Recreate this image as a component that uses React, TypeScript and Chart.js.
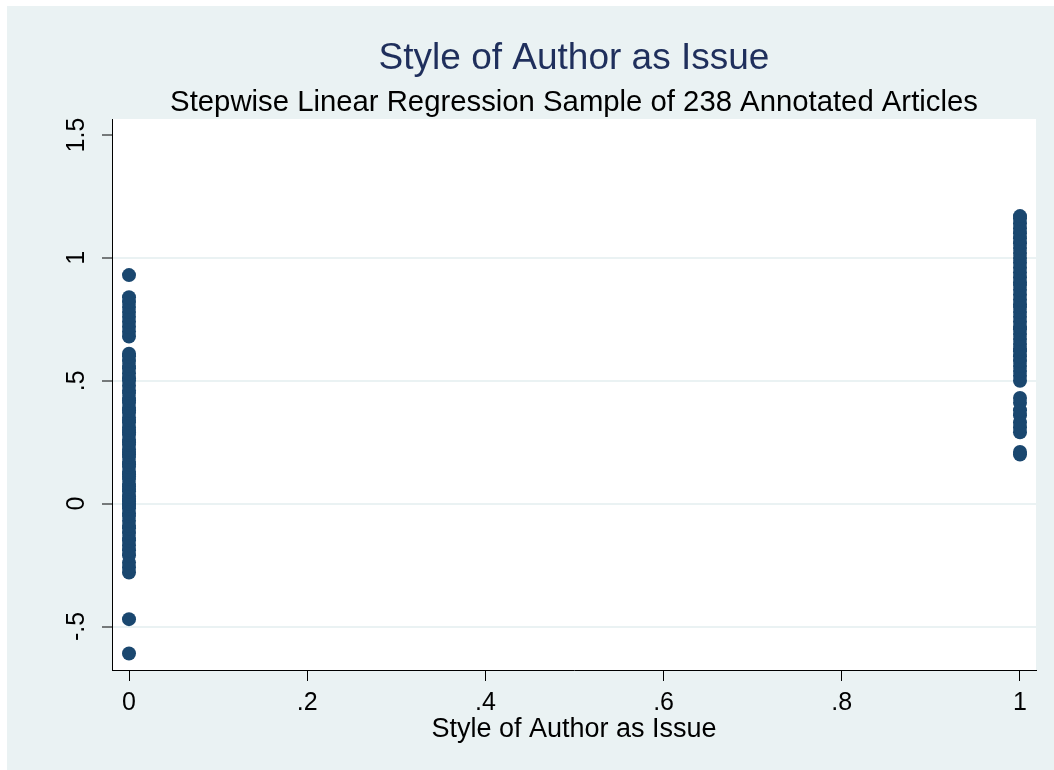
import React, { useEffect, useRef } from "react";
import { Chart, registerables } from "chart.js";

Chart.register(...registerables);

const TITLE = "Style of Author as Issue";
const SUBTITLE = "Stepwise Linear Regression Sample of 238 Annotated Articles";
const X_AXIS_TITLE = "Style of Author as Issue";

const xTickValues = [0, 0.2, 0.4, 0.6, 0.8, 1];
const xTickLabels = ["0", ".2", ".4", ".6", ".8", "1"];
const yTickValues = [-0.5, 0, 0.5, 1, 1.5];
const yTickLabels = ["-.5", "0", ".5", "1", "1.5"];

// predicted values for articles where "Style of Author as Issue" = 0
const groupZeroY = [
  -0.61, -0.47, -0.28, -0.26, -0.24, -0.21, -0.19, -0.17, -0.15, -0.14,
  -0.12, -0.1, -0.09, -0.07, -0.05, -0.04, -0.02, -0.01, 0.0, 0.01,
  0.02, 0.03, 0.05, 0.06, 0.07, 0.08, 0.1, 0.11, 0.12, 0.13,
  0.15, 0.16, 0.17, 0.19, 0.2, 0.21, 0.22, 0.24, 0.25, 0.26,
  0.28, 0.29, 0.3, 0.31, 0.33, 0.34, 0.35, 0.37, 0.38, 0.39,
  0.41, 0.42, 0.43, 0.45, 0.46, 0.48, 0.5, 0.51, 0.53, 0.55,
  0.56, 0.58, 0.6, 0.61, 0.68, 0.7, 0.72, 0.74, 0.76, 0.78,
  0.8, 0.82, 0.84, 0.93,
];

// predicted values for articles where "Style of Author as Issue" = 1
const groupOneY = [
  0.2, 0.21, 0.29, 0.31, 0.33, 0.36, 0.38, 0.41, 0.43, 0.5,
  0.52, 0.54, 0.56, 0.58, 0.6, 0.62, 0.63, 0.65, 0.67, 0.69,
  0.71, 0.72, 0.74, 0.76, 0.78, 0.8, 0.81, 0.83, 0.85, 0.87,
  0.89, 0.9, 0.92, 0.94, 0.96, 0.98, 1.0, 1.02, 1.04, 1.06,
  1.08, 1.1, 1.12, 1.14, 1.16, 1.17,
];

const FONT = '"Liberation Sans", Arial, Helvetica, sans-serif';
const BG = "#eaf2f3";

const backgroundPlugin = {
  id: "stataBackground",
  beforeDraw(chart: any) {
    const { ctx, width, height, chartArea } = chart;
    ctx.save();
    ctx.fillStyle = "#ffffff";
    ctx.fillRect(0, 0, width, height);
    ctx.fillStyle = BG;
    ctx.fillRect(7, 6, width - 7, height - 6);
    ctx.fillStyle = "#ffffff";
    ctx.fillRect(
      chartArea.left,
      chartArea.top,
      chartArea.right - chartArea.left,
      chartArea.bottom - chartArea.top
    );
    ctx.restore();
  },
};

const yLabelPlugin = {
  id: "rotatedYLabels",
  afterDraw(chart: any) {
    const scale = chart.scales.y;
    const ctx = chart.ctx;
    ctx.save();
    ctx.font = `25px ${FONT}`;
    ctx.fillStyle = "#000000";
    ctx.textAlign = "center";
    ctx.textBaseline = "alphabetic";
    yTickValues.forEach((v, i) => {
      const py = scale.getPixelForValue(v);
      ctx.save();
      ctx.translate(scale.right - 28, py);
      ctx.rotate(-Math.PI / 2);
      ctx.fillText(yTickLabels[i], 0, 0);
      ctx.restore();
    });
    ctx.restore();
  },
};

export default function App() {
  const canvasRef = useRef<HTMLCanvasElement | null>(null);

  useEffect(() => {
    if (!canvasRef.current) return;
    const points = [
      ...groupZeroY.map((y) => ({ x: 0, y })),
      ...groupOneY.map((y) => ({ x: 1, y })),
    ];
    const chart = new Chart(canvasRef.current, {
      type: "scatter",
      data: {
        datasets: [
          {
            label: "Fitted values",
            data: points,
            backgroundColor: "#1a476f",
            borderColor: "#1a476f",
            borderWidth: 0,
            pointRadius: 7,
            pointHoverRadius: 7,
          },
        ],
      },
      options: {
        responsive: false,
        animation: false,
        events: [],
        layout: { padding: { left: 0, right: 18, top: 0, bottom: 0 } },
        plugins: {
          legend: { display: false },
          tooltip: { enabled: false },
          title: {
            display: true,
            text: TITLE,
            fullSize: false,
            color: "#1f2f5c",
            font: { family: FONT, size: 37, weight: "normal", lineHeight: 1.2 },
            padding: { top: 36.8, bottom: 0 },
          },
          subtitle: {
            display: true,
            text: SUBTITLE,
            fullSize: false,
            color: "#000000",
            font: { family: FONT, size: 29.3, weight: "normal", lineHeight: 1.1 },
            padding: { top: 5.6, bottom: 0 },
          },
        },
        scales: {
          x: {
            type: "linear",
            min: -0.01908,
            max: 1.01796,
            afterFit: (s: any) => {
              s.height = 100;
            },
            afterBuildTicks: (s: any) => {
              s.ticks = xTickValues.map((v) => ({ value: v }));
            },
            ticks: {
              color: "#000000",
              font: { family: FONT, size: 25, lineHeight: 1.2 },
              padding: 7,
              maxRotation: 0,
              minRotation: 0,
              callback: (value: any) => {
                const i = xTickValues.indexOf(Number(value));
                return i >= 0 ? xTickLabels[i] : "";
              },
            },
            grid: {
              display: true,
              drawOnChartArea: false,
              drawTicks: true,
              tickLength: 11,
              tickColor: "#000000",
              tickWidth: 1,
            },
            border: { display: true, color: "#000000", width: 1 },
            title: {
              display: true,
              text: X_AXIS_TITLE,
              color: "#000000",
              font: { family: FONT, size: 27, lineHeight: 1.2 },
              padding: { top: 0, bottom: 24.5 },
            },
          },
          y: {
            type: "linear",
            min: -0.677,
            max: 1.565,
            afterFit: (s: any) => {
              s.width = 112;
            },
            afterBuildTicks: (s: any) => {
              s.ticks = yTickValues.map((v) => ({ value: v }));
            },
            ticks: { display: false },
            grid: {
              display: true,
              drawOnChartArea: true,
              drawTicks: true,
              tickLength: 10,
              lineWidth: 2,
              color: (c: any) =>
                c.tick && c.tick.value === 1.5 ? "rgba(0,0,0,0)" : BG,
              tickColor: "#000000",
              tickWidth: 1,
            },
            border: { display: true, color: "#000000", width: 1 },
          },
        },
      },
      plugins: [backgroundPlugin, yLabelPlugin],
    } as any);
    return () => chart.destroy();
  }, []);

  return (
    <div
      style={{
        position: "absolute",
        left: 0,
        top: 0,
        width: 1054,
        height: 770,
      }}
    >
      <canvas
        ref={canvasRef}
        width={1054}
        height={770}
        style={{ display: "block", width: 1054, height: 770 }}
      />
    </div>
  );
}
